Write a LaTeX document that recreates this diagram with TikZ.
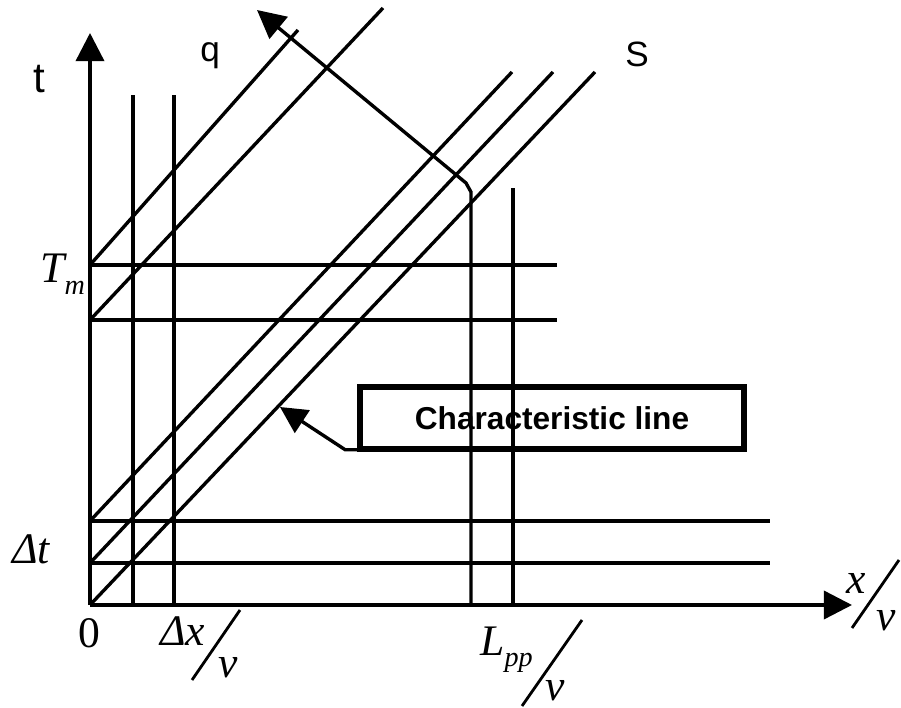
\documentclass[tikz,border=0pt]{standalone}
\usepackage{fontspec}
\setmainfont{Liberation Serif}
\setsansfont{Liberation Sans}
\usetikzlibrary{arrows.meta}
\newcommand\lsub[2]{#1\raisebox{-8pt}{\fontsize{20}{20}\selectfont #2}}

\begin{document}
\begin{tikzpicture}[x=0.025cm,y=-0.025cm,
  ln/.style={line width=2.4pt},
  ax/.style={ln,-{Triangle[length=20pt,width=20pt]}},
  slash/.style={line width=2pt},
  lab/.style={inner sep=0pt,anchor=base west,font=\fontsize{31}{31}\selectfont\itshape},
  slab/.style={inner sep=0pt,anchor=base west,font=\fontsize{25}{25}\selectfont\sffamily},
  callout/.style={draw,line width=4pt,minimum width=9.6cm,minimum height=1.55cm,inner sep=0pt,font=\fontsize{22.5}{22.5}\selectfont\sffamily\bfseries},
  leader/.style={line width=2.4pt,-{Triangle[length=19pt,width=19pt]}}]
\useasboundingbox (0,0) rectangle (901,708);
\draw[ax] (90,605) -- (90,33); \draw[ax] (90,605) -- (852,605);
\draw[ln] (133,605) -- (133,95); \draw[ln] (174,605) -- (174,95);
\draw[ln] (513,605) -- (513,188);
\draw[ax] (471,605) -- (471,192) -- (466,183) -- (257,10);
\draw[ln] (90,265) -- (557,265); \draw[ln] (90,320) -- (557,320);
\draw[ln] (90,521) -- (770,521); \draw[ln] (90,563) -- (770,563);
\draw[ln] (90,265) -- (298,30); \draw[ln] (90,320) -- (383,8);
\draw[ln] (90,521) -- (512,72); \draw[ln] (90,563) -- (553,72);
\draw[ln] (90,605) -- (595,72);
\node[slab,font=\fontsize{30}{30}\selectfont\sffamily] (t) at (33,93) {t};
\node[slab] (q) at (200,62) {q};
\node[slab] (s) at (625,67) {S};
\node[lab] (tm) at (40,283) {\lsub{T}{m}};
\node[lab] (dt) at (12,563) {Δt};
\node[lab,font=\fontsize{31}{31}\selectfont] (zero) at (78,647) {0};
\node[lab] (dx) at (160,645) {Δx};
\node[lab] (dxv) at (218,677) {v};
\node[lab] (lpp) at (480,655) {\lsub{L}{pp}};
\node[lab] (lv) at (545,700) {v};
\node[lab] (xx) at (846,593) {x};
\node[lab] (xv) at (876,630) {v};
\draw[slash] (240,610) -- (192,680); \draw[slash] (582,620) -- (522,706);
\draw[slash] (899,560) -- (852,628);
\node[callout] (char) at (552,418) {Characteristic line};
\coordinate (hit) at (280,407);
\draw[leader] ([yshift=1.5pt]char.south west) -- ++(-12,0) -- (hit);
\end{tikzpicture}
\end{document}
